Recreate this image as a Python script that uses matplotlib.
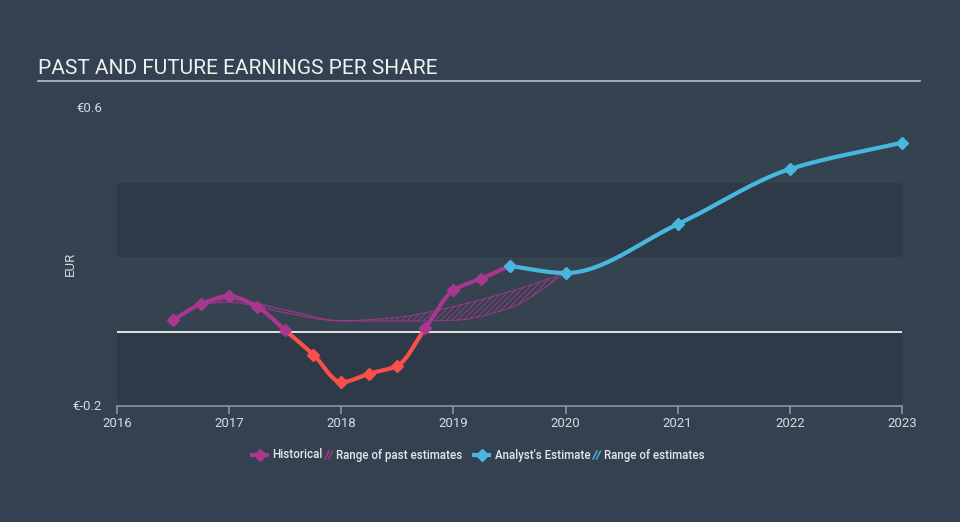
import numpy as np
import matplotlib
matplotlib.use("Agg")
import matplotlib.pyplot as plt
from matplotlib.lines import Line2D
from matplotlib.patches import Rectangle

plt.rcParams['font.family'] = ['Roboto', 'DejaVu Sans']
plt.rcParams['hatch.linewidth'] = 0.6

# ---- data ----
hist_x = [2016.5, 2016.75, 2017.0, 2017.25, 2017.5, 2017.75, 2018.0, 2018.25, 2018.5, 2018.75, 2019.0, 2019.25, 2019.5]
hist_y = [0.031, 0.074, 0.095, 0.066, 0.003, -0.062, -0.136, -0.113, -0.092, 0.009, 0.111, 0.142, 0.176]

fc_x = [2019.5, 2020.0, 2021.0, 2022.0, 2023.0]
fc_y = [0.176, 0.157, 0.288, 0.436, 0.507]

past_rng_x = [2016.75, 2017.0, 2017.5, 2018.0, 2018.5, 2019.0, 2019.5, 2020.0]
past_rng_hi = [0.074, 0.086, 0.058, 0.029, 0.038, 0.067, 0.107, 0.157]
past_rng_lo = [0.074, 0.078, 0.050, 0.028, 0.028, 0.030, 0.063, 0.157]

x_ticks = [2016, 2017, 2018, 2019, 2020, 2021, 2022, 2023]
y_min, y_max = -0.2, 0.6
legend_labels = ['Historical', 'Range of past estimates', "Analyst's Estimate", 'Range of estimates']

BG = '#344150'
BAND = '#2f3a48'
PURPLE = '#a9378f'
RED = '#f9504c'
BLUE = '#47b7e0'
TXT = '#d7dbe0'
W, H = 960, 522


def monotone(x, y, n=400):
    x = np.asarray(x, float); y = np.asarray(y, float)
    h = np.diff(x); d = np.diff(y) / h
    m = np.zeros_like(y)
    m[0] = d[0]; m[-1] = d[-1]
    for i in range(1, len(y) - 1):
        if d[i - 1] * d[i] <= 0:
            m[i] = 0
        else:
            w1 = 2 * h[i] + h[i - 1]; w2 = h[i] + 2 * h[i - 1]
            m[i] = (w1 + w2) / (w1 / d[i - 1] + w2 / d[i])
    xs = np.linspace(x[0], x[-1], n)
    idx = np.clip(np.searchsorted(x, xs) - 1, 0, len(x) - 2)
    t = (xs - x[idx]) / h[idx]
    h00 = 2 * t**3 - 3 * t**2 + 1; h10 = t**3 - 2 * t**2 + t
    h01 = -2 * t**3 + 3 * t**2; h11 = t**3 - t**2
    ys = h00 * y[idx] + h10 * h[idx] * m[idx] + h01 * y[idx + 1] + h11 * h[idx] * m[idx + 1]
    return xs, ys


def fx_(px):
    return px / W


def fy_(py):
    return 1 - py / H


fig = plt.figure(figsize=(9.6, 5.22), dpi=100, facecolor=BG)
ax = fig.add_axes([117 / W, 1 - 406 / H, 785 / W, 298 / H])
ax.set_facecolor('#35424f')
ax.set_xlim(2016, 2023)
ax.set_ylim(y_min, y_max)

# bands
ax.axhspan(0.2, 0.4, color=BAND, lw=0, zorder=0)
ax.axhspan(-0.2, 0.0, color=BAND, lw=0, zorder=0)
ax.axhline(0, color='white', lw=1.2, zorder=1)

# past range
rx, rhi = monotone(past_rng_x, past_rng_hi)
_, rlo = monotone(past_rng_x, past_rng_lo)
ax.fill_between(rx, rlo, rhi, facecolor='none', edgecolor=PURPLE, hatch='//////', lw=0, zorder=2)
ax.plot(rx, rhi, color=PURPLE, lw=0.8, alpha=0.8, zorder=2)
ax.plot(rx, rlo, color=PURPLE, lw=0.8, alpha=0.8, zorder=2)

# historical line, colored by sign
hx, hy = monotone(hist_x, hist_y)
lp, = ax.plot(hx, hy, color=PURPLE, lw=3, zorder=4, solid_capstyle='round')
ln, = ax.plot(hx, hy, color=RED, lw=3, zorder=4, solid_capstyle='round')
clip_pos = Rectangle((2015, 0), 10, 5, transform=ax.transData)
clip_neg = Rectangle((2015, -5), 10, 5, transform=ax.transData)
lp.set_clip_path(clip_pos)
ln.set_clip_path(clip_neg)
for xv, yv in zip(hist_x, hist_y):
    ax.plot([xv], [yv], marker='D', ms=6.5, color=PURPLE if yv >= 0 else RED, lw=0, zorder=5)

# forecast
fxs, fys = monotone(fc_x, fc_y)
ax.plot(fxs, fys, color=BLUE, lw=3, zorder=4, solid_capstyle='round')
ax.plot(fc_x, fc_y, marker='D', ms=6.5, color=BLUE, lw=0, zorder=5, clip_on=False)

# axes styling
for s in ['top', 'right', 'left']:
    ax.spines[s].set_visible(False)
ax.spines['bottom'].set_color('#8a96a3')
ax.spines['bottom'].set_linewidth(1.2)
ax.set_xticks(x_ticks)
ax.set_xticklabels([str(t) for t in x_ticks])
ax.tick_params(axis='x', colors='#8a96a3', length=6, width=1.2, labelcolor=TXT, labelsize=9.5, pad=2)
ax.set_yticks([])

fig.text(fx_(102), fy_(108), '€0.6', color=TXT, fontsize=9.5, ha='right', va='center')
fig.text(fx_(102), fy_(406), '€-0.2', color=TXT, fontsize=9.5, ha='right', va='center')
fig.text(fx_(70), fy_(264), 'EUR', color=TXT, fontsize=9.5, rotation=90, ha='center', va='center')

# title
fig.text(fx_(38), fy_(69), 'PAST AND FUTURE EARNINGS PER SHARE', color='#eef0f2', fontsize=15, ha='left', va='center')
fig.add_artist(Line2D([fx_(38), fx_(920)], [fy_(81), fy_(81)], color='#b9c0c8', lw=1.2, transform=fig.transFigure))

# legend (manual layout)
LY = 455
LTXT = '#e6e9ec'
LFS = 8.3


def line_handle(x0, x1, color):
    fig.add_artist(Line2D([fx_(x0), fx_(x1)], [fy_(LY), fy_(LY)], color=color, lw=3, transform=fig.transFigure))
    fig.add_artist(Line2D([fx_((x0 + x1) / 2)], [fy_(LY)], color=color, marker='D', ms=6.5, lw=0, transform=fig.transFigure))


def hatch_handle(x0, color):
    for off in (0, 3.5):
        fig.add_artist(Line2D([fx_(x0 + off), fx_(x0 + off + 4)], [fy_(LY + 4), fy_(LY - 4)], color=color,
                              lw=1.0, transform=fig.transFigure))


line_handle(252, 267, PURPLE)
fig.text(fx_(272), fy_(LY), legend_labels[0], color=LTXT, fontsize=LFS, ha='left', va='center', fontweight='medium')
hatch_handle(325, PURPLE)
fig.text(fx_(336), fy_(LY), legend_labels[1], color=LTXT, fontsize=LFS, ha='left', va='center', fontweight='medium')
line_handle(474, 489, BLUE)
fig.text(fx_(495), fy_(LY), legend_labels[2], color=LTXT, fontsize=LFS, ha='left', va='center', fontweight='medium')
hatch_handle(593, BLUE)
fig.text(fx_(604), fy_(LY), legend_labels[3], color=LTXT, fontsize=LFS, ha='left', va='center', fontweight='medium')

fig.savefig('out.png', dpi=100, facecolor=BG)
